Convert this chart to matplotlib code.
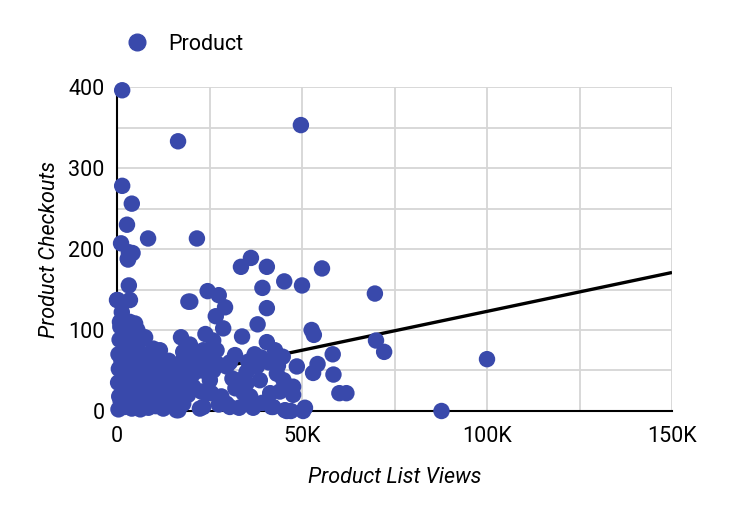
import matplotlib
matplotlib.use("Agg")
import matplotlib.pyplot as plt
from matplotlib.lines import Line2D
from matplotlib.ticker import FuncFormatter, MultipleLocator

plt.rcParams['font.family'] = ['Roboto', 'DejaVu Sans']

# product list views (thousands) and product checkouts
views_k = [
    1.4, 16.5, 49.7, 1.4, 4.0, 2.7, 1.1, 8.4, 21.6, 3.2, 3.0, 2.9, 4.2, 3.2, 3.5, 0.0,
    33.5, 36.2, 40.5, 55.4, 45.2, 50.0, 39.3, 40.5, 69.7, 19.8, 24.5, 27.5, 29.2, 26.7,
    28.7, 38.0, 33.8, 23.9, 17.3, 52.6, 53.2, 70.0, 72.2, 58.3, 48.6, 54.2, 53.0, 58.5,
    60.1, 62.0, 100.0, 87.7, 47.0, 50.3, 41.8, 45.4, 47.6, 47.6, 50.8, 19.3,
    19.7, 17.9, 26.0, 26.9, 22.4, 31.9, 35.5, 40.5, 42.7, 44.8, 13.4, 11.6, 15.2, 20.6,
    26.0, 29.6, 37.8, 33.2, 38.6, 43.2, 45.0, 46.8, 41.4, 36.0, 29.6, 30.5, 24.2, 17.9,
    22.4, 16.1, 13.4, 11.6, 42.2, 45.9, 20.6, 17.0, 25.1, 35.0, 23.3, 17.9, 16.6, 23.3,
    35.5, 27.5, 33.0,
    0.4, 0.6, 0.3, 0.5, 0.4, 0.7, 0.9, 0.2, 2.0, 2.2, 1.8, 2.4, 2.1, 1.9, 3.5, 0.8,
    4.0, 4.2, 3.8, 4.4, 4.1, 3.9, 4.9, 6.3, 6.0, 6.5, 6.2, 6.8, 6.0, 7.6, 5.5, 2.8,
    8.5, 8.2, 8.8, 8.4, 8.0, 10.5, 10.2, 10.8, 10.0, 9.8, 12.5, 12.8, 12.0, 12.5,
    14.5, 14.8, 14.2, 1.0, 3.0, 5.2, 7.0, 9.5, 11.2,
    1.2, 3.0, 5.0, 7.2, 9.2, 11.0, 1.5, 5.5, 7.5, 9.5, 3.1, 5.6, 1.3, 7.3, 11.3, 13.5,
    15.8, 18.8, 21.5, 24.8, 19.2, 22.8, 16.5, 25.5, 20.5, 14.0, 18.0, 23.0,
    28.2, 31.2, 34.2, 37.2, 30.5, 35.0, 39.0, 43.5, 44.0, 39.2, 32.0, 27.2, 36.8, 41.0,
]
checkouts = [
    396, 333, 353, 278, 256, 230, 207, 213, 213, 196, 187, 188, 195, 155, 137, 137,
    178, 189, 178, 176, 160, 155, 152, 127, 145, 135, 148, 143, 128, 117,
    102, 107, 92, 95, 91, 100, 94, 87, 73, 70, 55, 58, 47, 45,
    22, 22, 64, 0, 0, 0, 5, 1, 30, 20, 4, 135,
    82, 73, 87, 75, 67, 69, 61, 85, 75, 67, 57, 75, 46, 46,
    50, 55, 55, 38, 38, 46, 38, 26, 22, 18, 9, 5, 22, 9,
    3, 1, 30, 38, 5, 0, 30, 30, 38, 34, 75, 63, 1, 5,
    11, 8, 4,
    2, 18, 35, 52, 70, 88, 104, 137, 5, 22, 40, 58, 76, 94, 110, 110,
    3, 20, 38, 55, 72, 90, 108, 2, 18, 35, 52, 70, 86, 91, 100, 100,
    4, 20, 36, 52, 68, 6, 22, 40, 58, 77, 3, 18, 35, 59,
    8, 45, 25, 12, 28, 10, 28, 12, 48,
    62, 46, 29, 57, 42, 27, 10, 9, 26, 11, 82, 82, 122, 40, 12, 36,
    55, 58, 56, 62, 20, 24, 18, 22, 68, 62, 40, 50,
    18, 40, 22, 70, 60, 48, 66, 56, 24, 10, 28, 58, 4, 60,
]
views = [v * 1000 for v in views_k]

# linear trendline as drawn on the chart
trend_x = [0, 150000]
trend_y = [27, 171]

dot_color = '#3949ab'
fs = 15.5

fig = plt.figure(figsize=(7.5, 5.14), dpi=100)
ax = fig.add_axes([0.156, 0.2004, 0.74, 0.6303])

ax.plot(trend_x, trend_y, color='black', lw=2.4, zorder=2, solid_capstyle='butt')
ax.scatter(views, checkouts, s=140, color=dot_color, edgecolors='none',
           zorder=3, clip_on=False)

ax.set_xlim(0, 150000)
ax.set_ylim(0, 400)
ax.xaxis.set_major_locator(MultipleLocator(50000))
ax.xaxis.set_minor_locator(MultipleLocator(25000))
ax.yaxis.set_major_locator(MultipleLocator(100))
ax.yaxis.set_minor_locator(MultipleLocator(50))
ax.xaxis.set_major_formatter(FuncFormatter(lambda v, p: '0' if v == 0 else f'{int(v / 1000)}K'))

ax.grid(True, which='both', color='#d6d6d6', lw=1.3, zorder=0)
ax.set_axisbelow(True)
for side in ['top', 'right']:
    ax.spines[side].set_visible(False)
for side in ['left', 'bottom']:
    ax.spines[side].set_color('black')
    ax.spines[side].set_linewidth(1.5)
    ax.spines[side].set_zorder(2.5)

ax.tick_params(which='both', length=0)
ax.tick_params(axis='y', pad=9, labelsize=fs)
ax.tick_params(axis='x', pad=11, labelsize=fs)

ax.set_xlabel('Product List Views', fontsize=fs, style='italic', labelpad=14)
ax.set_ylabel('Product Checkouts', fontsize=fs, style='italic', labelpad=6)

handle = Line2D([], [], marker='o', ls='none', color=dot_color, markersize=12)
fig.legend([handle], ['Product'], loc='center left', bbox_to_anchor=(0.139, 0.914),
           frameon=False, fontsize=fs, handletextpad=0.45, borderpad=0)

fig.savefig('out.png', dpi=100)
